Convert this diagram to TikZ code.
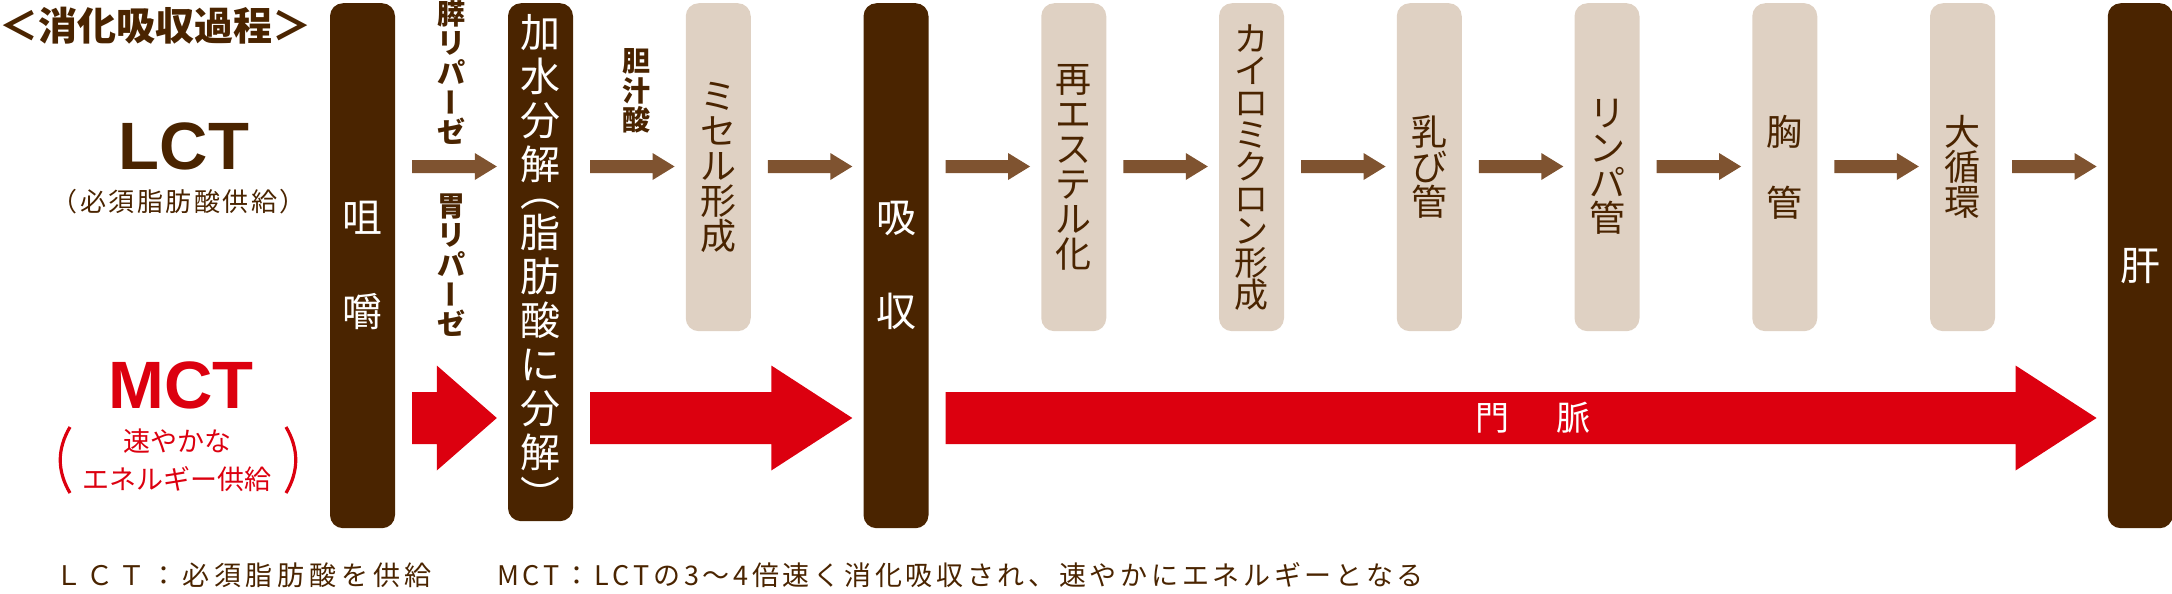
\documentclass[tikz,border=0pt]{standalone}
\usepackage{fontspec}
\usepackage{graphicx}
\usetikzlibrary{calc}

\newfontfamily\jpfont{Noto Sans CJK JP}
\newfontfamily\latfont{Liberation Sans}

\definecolor{boxdark}{RGB}{74,36,0}
\definecolor{boxlight}{RGB}{223,209,195}
\definecolor{lctbrown}{RGB}{127,83,48}
\definecolor{mctred}{RGB}{220,0,15}
\definecolor{inkbrown}{RGB}{74,36,0}

\newcommand{\stacksize}[2]{\fontsize{#1}{#2}\selectfont\lineskiplimit=-100pt\lineskip=0pt\relax}
\newcommand{\vbar}{\raisebox{0.38em}{\rotatebox[origin=c]{90}{\smash{\raisebox{-0.38em}{ー}}}}}
\makeatletter
\newcommand{\spaced}[2]{\@tfor\next:=#2\do{\next\hspace{#1}}}
\makeatother
\newcommand{\blockarrow}[6]{%
  \fill[#1] ($(#2)+(0,#4)$) -- ($(#3)+(-#6,#4)$) -- ($(#3)+(-#6,#5)$) -- (#3)
    -- ($(#3)+(-#6,-#5)$) -- ($(#3)+(-#6,-#4)$) -- ($(#2)+(0,-#4)$) -- cycle;}

\tikzset{
  stage/.style={rectangle, rounded corners=13pt, inner sep=0pt, minimum width=65pt, anchor=north, align=center},
  darkstage/.style={stage, fill=boxdark, text=white, minimum height=525pt, font=\jpfont\stacksize{40}{44}},
  lightstage/.style={stage, fill=boxlight, text=inkbrown, minimum height=328pt, font=\jpfont\stacksize{36}{35}},
  enzyme/.style={inner sep=0pt, align=center, text=inkbrown, font=\jpfont\bfseries\stacksize{28}{29.5}},
  plain/.style={inner sep=0pt, align=center},
  note/.style={plain, anchor=west, text=inkbrown, font=\jpfont\fontsize{27}{27}\selectfont},
}

\begin{document}
\begin{tikzpicture}[x=1pt, y=-1pt]
    \useasboundingbox (0,0) rectangle (2172,594);
    \coordinate (lctrow) at (0,166.5);
    \coordinate (mctrow) at (0,418);

    \node[plain, anchor=west, text=inkbrown, font=\jpfont\bfseries\fontsize{39}{39}\selectfont] (title) at (-1,26) {＜消化吸収過程＞};

    \node[plain, text=inkbrown, font=\latfont\bfseries\fontsize{67}{67}\selectfont] (lct) at (184,146) {LCT};
    \node[plain, text=inkbrown, font=\jpfont\fontsize{26}{26}\selectfont] (lctnote) at (180,202) {\spaced{2.5pt}{（必須脂肪酸供給）}};
    \node[plain, text=mctred, font=\latfont\bfseries\fontsize{67}{67}\selectfont] (mct) at (181,385) {MCT};
    \node[plain, text=mctred, font=\jpfont\fontsize{27}{38}\selectfont] (mctnote) at (177,460) {速やかな\\エネルギー供給};
    \draw[mctred, line width=3.2pt] (70,427) .. controls (57,449) and (57,471) .. (70,493);
    \draw[mctred, line width=3.2pt] (286,427) .. controls (299,449) and (299,471) .. (286,493);

    \node[darkstage] (chew) at (362.5,3) {咀\\[50pt]嚼};
    \node[darkstage, minimum height=518pt] (hydro) at (540.5,3) {加\\水\\分\\解\\[-17pt]︵\\[-3pt]脂\\肪\\酸\\に\\分\\解\\[-1pt]︶};
    \node[lightstage] (micelle) at (718.25,3) {ミ\\セ\\ル\\形\\成};
    \node[darkstage] (absorb) at (896,3) {吸\\[50pt]収};
    \node[lightstage] (reester) at (1073.75,3) {再\\エ\\ス\\テ\\ル\\化};
    \node[lightstage, font=\jpfont\stacksize{34}{32}] (chylo) at (1251.5,3) {カ\\イ\\ロ\\ミ\\ク\\ロ\\ン\\形\\成};
    \node[lightstage] (lacteal) at (1429.25,3) {乳\\び\\管};
    \node[lightstage] (lymph) at (1607,3) {リ\\ン\\パ\\管};
    \node[lightstage] (thoracic) at (1784.75,3) {胸\\[36pt]管};
    \node[lightstage] (systemic) at (1962.5,3) {大\\循\\環};
    \node[darkstage] (liver) at (2140.25,3) {肝};

    \node[enzyme] (panc) at (451,72.5) {膵\\リ\\パ\\\vbar\\ゼ};
    \node[enzyme] (gast) at (451,265) {胃\\リ\\パ\\\vbar\\ゼ};
    \node[enzyme] (bile) at (636,91) {胆\\汁\\酸};

    \foreach \a/\b [count=\i] in {chew/hydro, hydro/micelle, micelle/absorb, absorb/reester, reester/chylo, chylo/lacteal, lacteal/lymph, lymph/thoracic, thoracic/systemic, systemic/liver}{
        \coordinate (lt\i) at ($(\a.east |- lctrow)+(17,0)$);
        \coordinate (lh\i) at ($(\b.west |- lctrow)+(-11,0)$);
        \blockarrow{lctbrown}{lt\i}{lh\i}{6.5}{13.5}{22}
    }
    \foreach \a/\b/\h [count=\i] in {chew/hydro/60, hydro/absorb/81, absorb/liver/81}{
        \coordinate (mt\i) at ($(\a.east |- mctrow)+(17,0)$);
        \coordinate (mh\i) at ($(\b.west |- mctrow)+(-11,0)$);
        \blockarrow{mctred}{mt\i}{mh\i}{26}{52.5}{\h}
    }
    \node[plain, text=white, font=\jpfont\fontsize{34}{34}\selectfont] (portal) at (1533,418) {門\hspace{48pt}脈};

    \node[note] (note1) at (55,575) {\spaced{4.8pt}{ＬＣＴ：必須脂肪酸を供給}};
    \node[note] (note2) at (497,575) {\spaced{3.7pt}{MCT：LCTの3～4倍速く消化吸収され、速やかにエネルギーとなる}};
\end{tikzpicture}
\end{document}
